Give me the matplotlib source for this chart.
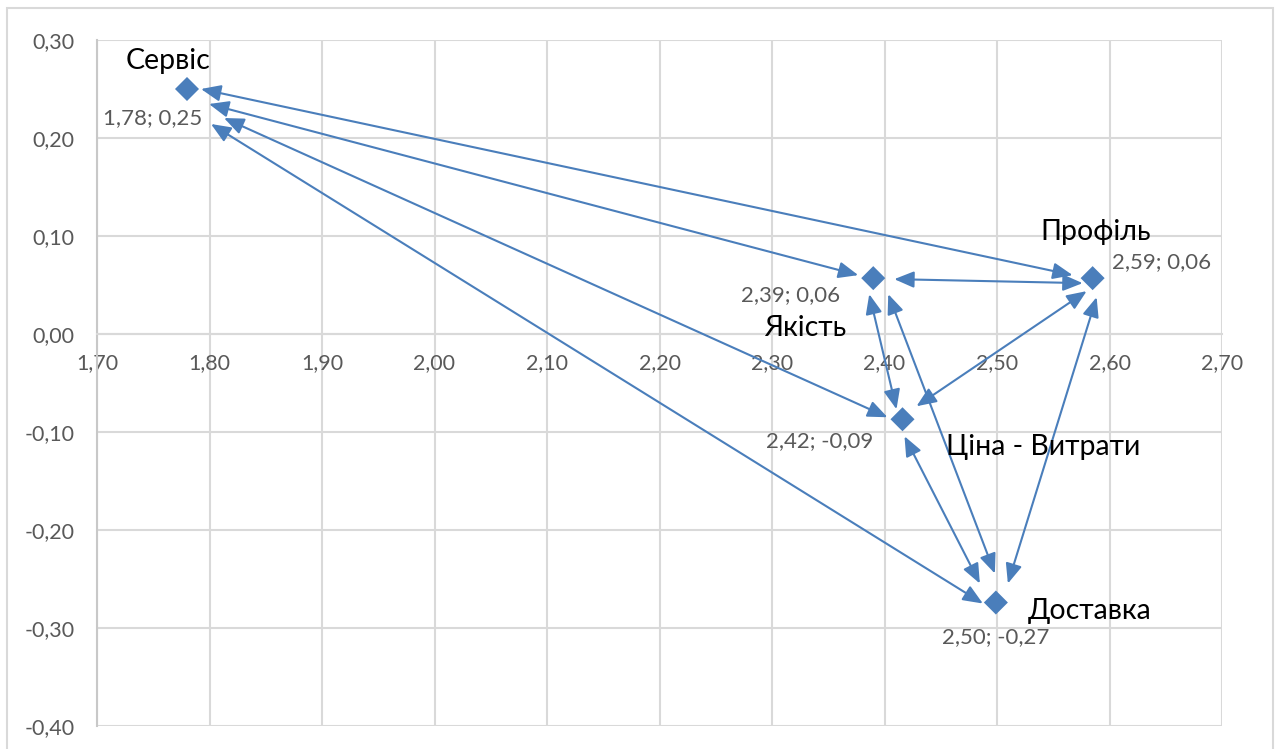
import matplotlib.pyplot as plt
from matplotlib.patches import Rectangle
from matplotlib.ticker import FuncFormatter
from matplotlib.transforms import offset_copy

# factors and their coordinates
names = ['Сервіс', 'Якість', 'Профіль', 'Ціна - Витрати', 'Доставка']
xs = [1.78, 2.39, 2.585, 2.416, 2.499]
ys = [0.25, 0.057, 0.057, -0.087, -0.274]
labels = ['1,78; 0,25', '2,39; 0,06', '2,59; 0,06', '2,42; -0,09', '2,50; -0,27']

# every factor is linked with every other one
links = [(0, 2), (0, 1), (0, 3), (0, 4), (1, 2), (1, 3), (1, 4), (2, 3), (2, 4), (3, 4)]

# where each arrow tip sits next to its marker, pixels (right, down)
tips = [((14, 0), (-20, -3)),
        ((22, 15), (-15, -3)),
        ((37, 29), (-15, -2)),
        ((24, 35), (-13, 1)),
        ((21, 1), (-10, 5)),
        ((-4, 16), (-6, -10)),
        ((15, 16), (-1, -29)),
        ((-6, 13), (14, -13)),
        ((4, 19), (12, -19)),
        ((2, 17), (-16, -19))]

# label offsets in pixels: (name dx, name dy, value dx, value dy)
offs = [(-19, 28, -34, -29),
        (-68, -50, -83, -17),
        (3, 46, 69, 16),
        (141, -28, -83, -22),
        (94, -8, 0, -35)]

blue = '#4a7ebb'
grid = '#d9d9d9'
gray = '#595959'
plt.rcParams['font.family'] = ['Lato', 'DejaVu Sans']

fig = plt.figure(figsize=(12.78, 7.49), dpi=100)
ax = fig.add_axes([97 / 1278, 1 - 726 / 749, 1125 / 1278, 686 / 749])

# outer chart frame
fig.patches.append(Rectangle((7 / 1278, -0.1), 1266 / 1278, 1.1 - 8 / 749,
                             transform=fig.transFigure, fill=False,
                             edgecolor=grid, lw=1.5))

ax.set_xlim(1.70, 2.70)
ax.set_ylim(-0.40, 0.30)
ax.set_xticks([1.7 + 0.1 * i for i in range(11)])
ax.set_yticks([-0.4 + 0.1 * i for i in range(8)])
fmt = FuncFormatter(lambda v, p: f'{v:.2f}'.replace('.', ','))
ax.xaxis.set_major_formatter(fmt)
ax.yaxis.set_major_formatter(fmt)
ax.grid(True, color=grid, lw=1.5)
ax.set_axisbelow(True)
for s in ['top', 'right']:
    ax.spines[s].set_visible(False)
ax.spines['left'].set_color('#c8c8c8')
ax.spines['left'].set_linewidth(1.5)
ax.spines['bottom'].set_position(('data', 0))
ax.spines['bottom'].set_color(grid)
ax.spines['bottom'].set_linewidth(1.5)
ax.tick_params(length=0, labelsize=15.5, labelcolor=gray)
ax.tick_params(axis='x', pad=14)
ax.tick_params(axis='y', pad=16)

for (a, b), ((ax_, ay_), (bx_, by_)) in zip(links, tips):
    ta = offset_copy(ax.transData, fig=fig, x=ax_, y=-ay_, units='dots')
    tb = offset_copy(ax.transData, fig=fig, x=bx_, y=-by_, units='dots')
    ax.annotate('', xy=(xs[b], ys[b]), xycoords=tb,
                xytext=(xs[a], ys[a]), textcoords=ta,
                arrowprops=dict(arrowstyle='<|-|>,head_length=1.2,head_width=0.5',
                                color=blue, lw=1.5, shrinkA=0, shrinkB=0))

ax.scatter(xs, ys, marker='D', s=150, color=blue, zorder=5, edgecolors='none')

for x, y, n, l, (ndx, ndy, vdx, vdy) in zip(xs, ys, names, labels, offs):
    ax.annotate(n, (x, y), xytext=(ndx, ndy), textcoords='offset pixels',
                ha='center', va='center', fontsize=20.5, color='black')
    ax.annotate(l, (x, y), xytext=(vdx, vdy), textcoords='offset pixels',
                ha='center', va='center', fontsize=16, color=gray)

fig.savefig('out.png', dpi=100)
